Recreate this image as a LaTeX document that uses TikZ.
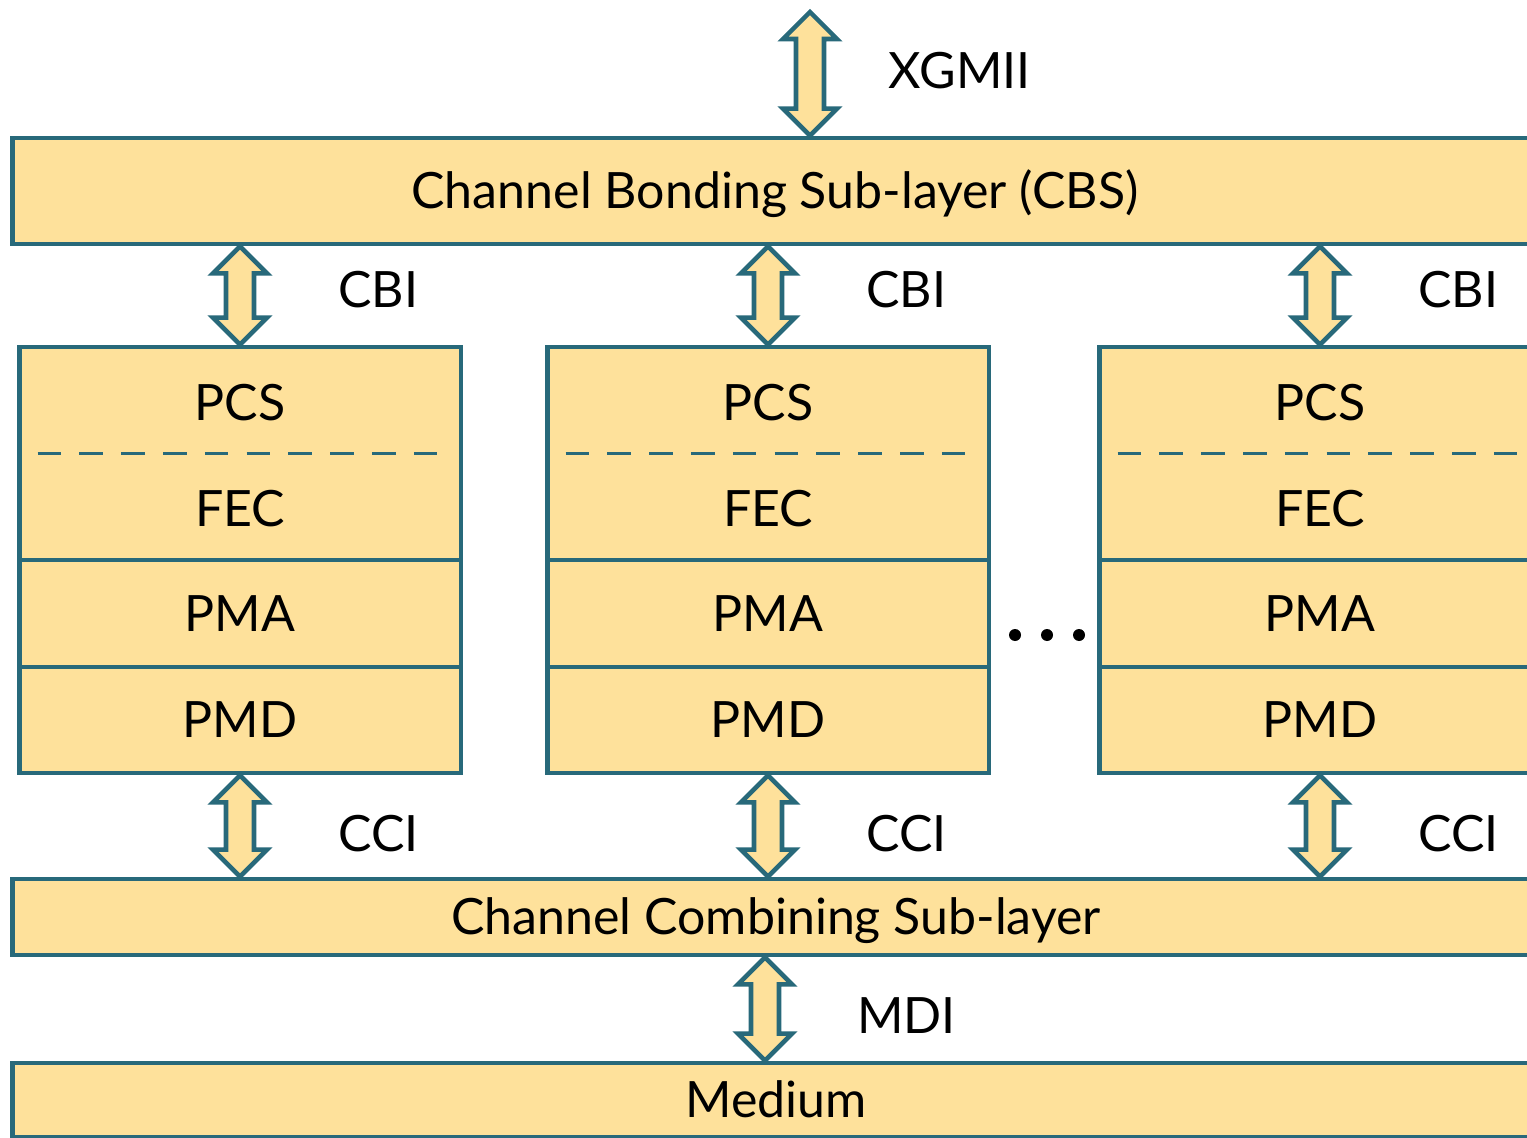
\documentclass[tikz,border=0pt]{standalone}
\usepackage{fontspec}
\setmainfont{Lato}
\usetikzlibrary{calc}
\definecolor{layerfill}{RGB}{254,225,155}
\definecolor{layerline}{RGB}{40,105,122}
\tikzset{
  layer/.style={draw=layerline,fill=layerfill,line width=2.8pt,inner sep=0pt,
    font=\fontsize{28.5}{34}\selectfont,text height=20.4pt,text depth=0pt},
  txt/.style={inner sep=0pt,font=\fontsize{28.5}{34}\selectfont,text height=20.4pt,text depth=0pt},
  bidir/.style={draw=layerline,fill=layerfill,line width=2.6pt},
  sep line/.style={draw=layerline,line width=1.9pt,dash pattern=on 13.4pt off 10.4pt}
}
% double block arrow from #1 (top tip) to #2 (bottom tip)
\newcommand\bidirarrow[2]{%
  \draw[bidir] (#1) -- ($(#1)+(27,27)$) -- ($(#1)+(14,27)$) -- ($(#2)+(14,-27)$)
    -- ($(#2)+(27,-27)$) -- (#2) -- ($(#2)+(-27,-27)$) -- ($(#2)+(-14,-27)$)
    -- ($(#1)+(-14,27)$) -- ($(#1)+(-27,27)$) -- cycle;}

\begin{document}
\begin{tikzpicture}[x=0.02cm,y=-0.02cm]
  \clip (0,0) rectangle (1527,1138);
  \coordinate (xg) at (810,12);
  \coordinate (md) at (765,0);
  \node[layer,minimum width=30.52cm,minimum height=2.12cm] (cbs) at (775,191) {Channel Bonding Sub-layer (CBS)};
  \node[layer,minimum width=30.56cm,minimum height=1.52cm] (ccs) at (776,917) {Channel Combining Sub-layer};
  \node[layer,minimum width=30.56cm,minimum height=1.48cm] (medium) at (776,1100) {Medium};
  % one PHY lane per column
  \foreach \n/\x in {a/240,b/768,c/1320}{
    \node[layer,minimum width=8.84cm,minimum height=4.26cm] (blk\n) at (\x,453.5) {};
    \node[txt] (pcs\n) at (\x,403) {PCS};
    \node[txt] (fec\n) at (\x,509) {FEC};
    \draw[sep line] ($(blk\n.west)+(21,0)$) -- ($(blk\n.east)+(-20,0)$);
    \node[layer,minimum width=8.84cm,minimum height=2.14cm] (pma\n) at (\x,613.5) {PMA};
    \node[layer,minimum width=8.84cm,minimum height=2.12cm] (pmd\n) at (\x,720) {PMD};
    \bidirarrow{cbs.south -| blk\n.north}{blk\n.north}
    \bidirarrow{pmd\n.south}{ccs.north -| pmd\n.south}
    \node[txt,anchor=west] (cbi\n) at (\x+98,290) {CBI};
    \node[txt,anchor=west] (cci\n) at (\x+98,834) {CCI};
  }
  \bidirarrow{xg}{cbs.north -| xg}
  \bidirarrow{ccs.south -| md}{medium.north -| md}
  \node[txt,anchor=west] (xgmii) at (888,71) {XGMII};
  \node[txt,anchor=west] (mdi) at (857,1016) {MDI};
  \foreach \d in {1015,1047,1079}
    \fill (\d,635) circle (6);
\end{tikzpicture}
\end{document}
